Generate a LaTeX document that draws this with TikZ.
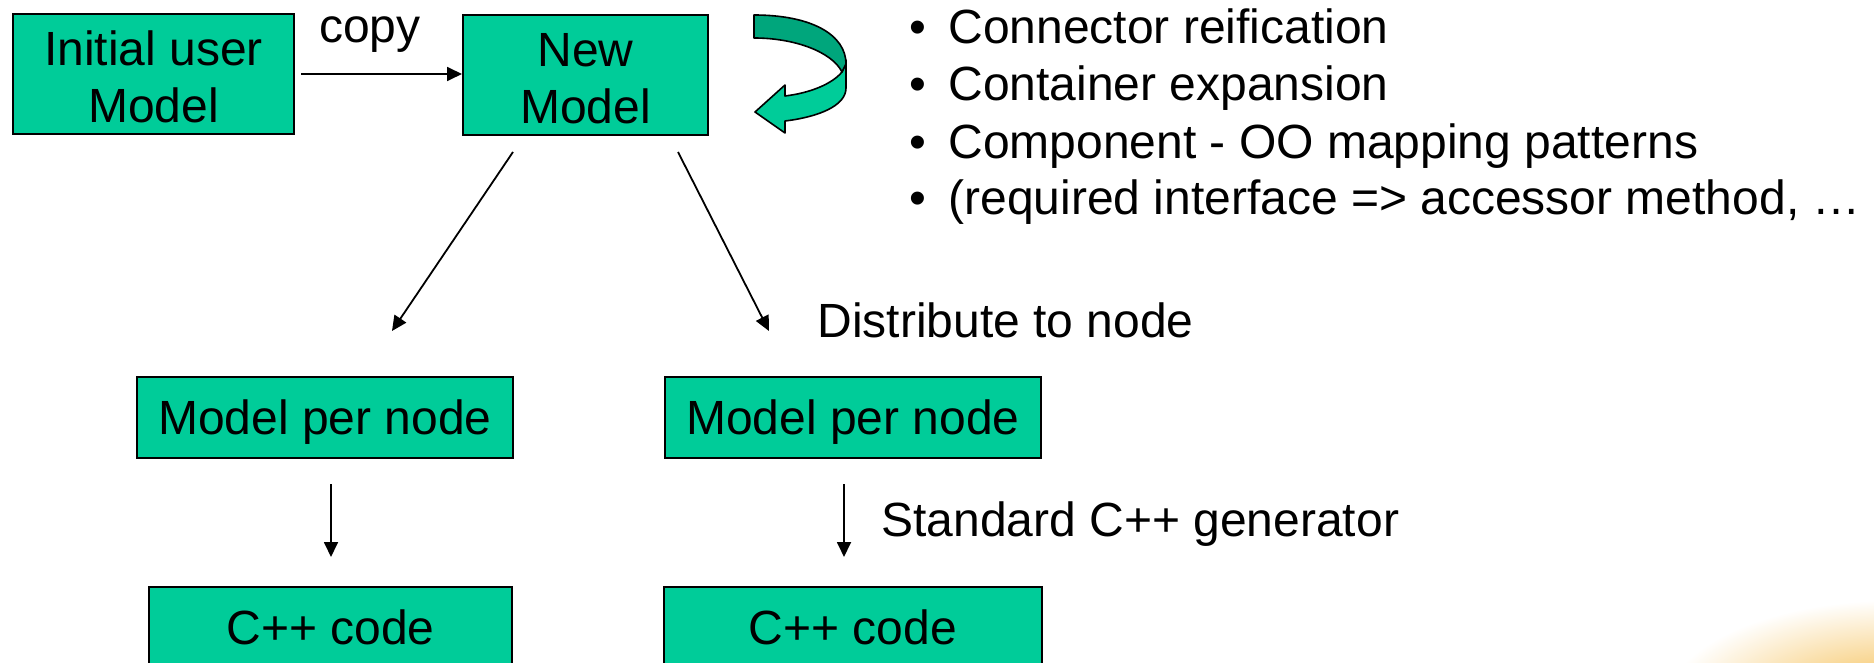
\documentclass[tikz,border=0pt]{standalone}
\usepackage{fontspec}
\setmainfont{Liberation Sans}
\usetikzlibrary{arrows.meta}
\definecolor{boxgreen}{RGB}{0,204,153}
\definecolor{backgreen}{RGB}{0,166,124}
\definecolor{glow}{RGB}{244,184,66}

% extra room above the first line of a two-line box
\newcommand{\toproom}{\rule{0pt}{20.5pt}}

\begin{document}
\begin{tikzpicture}[x=0.5pt,y=-0.5pt,
  every node/.style={font=\fontsize{24}{28.5}\selectfont, inner sep=0pt},
  greenbox/.style={draw=black, line width=1pt, fill=boxgreen, align=center},
  onebox/.style={greenbox, text height=17.2pt, text depth=0pt},
  arr/.style={-{Triangle[length=7.5pt,width=7pt]}, line width=0.9pt},
  plain/.style={anchor=base west},
  dot/.style={anchor=base},
]
\useasboundingbox (0,0) rectangle (1874,663);

% warm glow in the lower right corner
\begin{scope}
  \clip (0,0) rectangle (1874,663);
  \shade[inner color=glow, outer color=white] (1895,705) ellipse [x radius=230, y radius=105];
\end{scope}

% boxes
\node[greenbox, minimum width=140.5pt, minimum height=60pt] (init) at (153.5,74) {\toproom Initial user\\Model};
\node[greenbox, minimum width=122.5pt, minimum height=60pt] (newm) at (585.5,75) {\toproom New\\Model};
\node[onebox, minimum width=188pt, minimum height=40.5pt] (mpn1) at (325,417.5) {Model per node};
\node[onebox, minimum width=188pt, minimum height=40.5pt] (mpn2) at (853,417.5) {Model per node};
\node[onebox, minimum width=181.5pt, minimum height=40.5pt] (cpp1) at (330.5,627.5) {C++ code};
\node[onebox, minimum width=189pt, minimum height=40.5pt] (cpp2) at (853,627.5) {C++ code};

% self-transformation arrow: front band, then back band
\filldraw[fill=boxgreen, line width=0.8pt, line join=round]
  (846,60) -- (846,88) .. controls (846,106) and (818,117) .. (785,121)
  -- (785,133) -- (755,112) -- (785,85) -- (785,96)
  .. controls (810,93) and (832,84) .. (842,72) -- cycle;
\filldraw[fill=backgreen, line width=0.8pt, line join=round]
  (754,15) .. controls (812,15) and (846,35) .. (846,64) -- (842,72)
  .. controls (832,52) and (795,38) .. (754,38) -- cycle;

% labels
\node[dot] (copy) at (370,43) {copy};
\node[plain] (dist) at (817,337) {Distribute to node};
\node[plain] (gen) at (881,536) {Standard C++ generator};

% transformation list
\node[dot] (b1) at (917.5,44) {•};
\node[plain] (t1) at (948,44) {Connector reification};
\node[dot] (b2) at (917.5,101) {•};
\node[plain] (t2) at (948,101) {Container expansion};
\node[dot] (b3) at (917.5,158.5) {•};
\node[plain] (t3) at (948,158.5) {Component - OO mapping patterns};
\node[dot] (b4) at (917.5,215) {•};
\node[plain] (t4) at (948,215) {(required interface => accessor method, …};

% connectors
\draw[arr] ([xshift=3pt]init.east) -- (init.east -| newm.west);
\draw[arr] ([xshift=-36.25pt,yshift=-8pt]newm.south) -- ([xshift=33.5pt,yshift=22.5pt]mpn1.north);
\draw[arr] ([xshift=46.25pt,yshift=-8pt]newm.south) -- ([xshift=-42pt,yshift=22.5pt]mpn2.north);
\draw[arr] ([xshift=3pt,yshift=-12.5pt]mpn1.south) -- ([xshift=0.25pt,yshift=14.5pt]cpp1.north);
\draw[arr] ([xshift=-4.5pt,yshift=-12.5pt]mpn2.south) -- ([xshift=-4.5pt,yshift=14.5pt]cpp2.north);
\end{tikzpicture}
\end{document}
